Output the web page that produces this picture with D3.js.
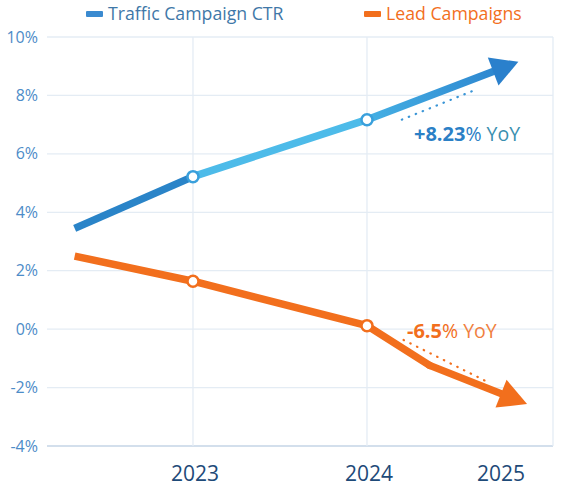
<!DOCTYPE html>
<html>
<head>
<meta charset="utf-8">
<script src="https://cdn.jsdelivr.net/npm/d3@7"></script>
<style>
  body { margin: 0; background: #fff; }
  svg { font-family: "Open Sans", "Noto Sans", sans-serif; }
</style>
</head>
<body>
<div id="chart"></div>
<script>
// data
const yTicks = [-4, -2, 0, 2, 4, 6, 8, 10];
const years = [2023, 2024, 2025];

const ctrX = [2022.32, 2023, 2024, 2024.87];
const ctrY = [3.45, 5.22, 7.17, 9.15];
const ctrColors = ["#2a84c8", "#4dbbe9", "url(#ctrGrad)"];

const leadX = [2022.32, 2023, 2024, 2024.36, 2024.92];
const leadY = [2.5, 1.64, 0.12, -1.24, -2.56];

const ctrNote = { bold: "+8.23", rest: "% ", tail: "YoY", x: 2024.27, y: 6.45 };
const leadNote = { bold: "-6.5", rest: "% ", tail: "YoY", x: 2024.23, y: -0.32 };
const ctrDots = [[2024.2, 7.17], [2024.61, 8.16]];
const leadDots = [[2024.21, -0.37], [2024.68, -1.77]];

const orange = "#f26f1d";

const width = 561, height = 501;
const margin = { top: 37, right: 8, bottom: 55, left: 47 };

const svg = d3.select("#chart").append("svg")
  .attr("width", width).attr("height", height);

const x = d3.scaleLinear()
  .domain([2022.161, 2025.069])
  .range([margin.left, width - margin.right]);
const y = d3.scaleLinear()
  .domain([-4, 10])
  .range([height - margin.bottom, margin.top]);

// gradient for the last blue segment
const grad = svg.append("defs").append("linearGradient")
  .attr("id", "ctrGrad").attr("gradientUnits", "userSpaceOnUse")
  .attr("x1", x(2024)).attr("y1", y(7.17))
  .attr("x2", x(2024.87)).attr("y2", y(9.15));
grad.append("stop").attr("offset", "0%").attr("stop-color", "#45b0e4");
grad.append("stop").attr("offset", "100%").attr("stop-color", "#2a80cc");

// grid
svg.append("g").selectAll("line").data(yTicks).join("line")
  .attr("x1", margin.left).attr("x2", width - margin.right)
  .attr("y1", d => y(d)).attr("y2", d => y(d))
  .attr("stroke", d => d === -4 ? "#d3dfec" : "#e4ecf4")
  .attr("stroke-width", d => d === -4 ? 2 : 1.3);

const vLines = [2023, 2024, x.domain()[1]];
svg.append("g").selectAll("line").data(vLines).join("line")
  .attr("x1", d => x(d)).attr("x2", d => x(d))
  .attr("y1", margin.top).attr("y2", y(-4))
  .attr("stroke", "#e4ecf4").attr("stroke-width", 1.3);

// y axis labels
svg.append("g").selectAll("text").data(yTicks).join("text")
  .attr("x", 38).attr("y", d => y(d)).attr("dy", "0.35em")
  .attr("text-anchor", "end")
  .attr("fill", "#4d8cc8").style("font-size", "16px")
  .text(d => d + "%");

// x axis labels
svg.append("g").selectAll("text").data(years).join("text")
  .attr("x", d => x(d)).attr("dx", (d, i) => i === years.length - 1 ? -40 : 2)
  .attr("y", 481)
  .attr("text-anchor", "middle")
  .attr("fill", "#1e4a78").style("font-size", "21px")
  .text(d => d);

// polyline whose last segment ends at the arrowhead base
function drawSeries(xs, ys, colors, headLen, headW) {
  const pts = xs.map((d, i) => [x(d), y(ys[i])]);
  const n = pts.length;
  const tip = pts[n - 1], prev = pts[n - 2];
  const dx = tip[0] - prev[0], dy = tip[1] - prev[1];
  const len = Math.hypot(dx, dy);
  const ux = dx / len, uy = dy / len;
  const base = [tip[0] - ux * headLen, tip[1] - uy * headLen];
  const linePts = pts.slice(0, n - 1).concat([base]);

  for (let i = 0; i < linePts.length - 1; i++) {
    svg.append("line")
      .attr("x1", linePts[i][0]).attr("y1", linePts[i][1])
      .attr("x2", linePts[i + 1][0]).attr("y2", linePts[i + 1][1])
      .attr("stroke", colors[Math.min(i, colors.length - 1)])
      .attr("stroke-width", 7.5)
      .attr("stroke-linecap", i === 0 ? "butt" : "round");
  }
  const c = colors.length > 1 ? "#2a80cc" : colors[0];
  svg.append("path")
    .attr("d", `M${tip[0]},${tip[1]}` +
      `L${base[0] - uy * headW},${base[1] + ux * headW}` +
      `L${base[0] + uy * headW},${base[1] - ux * headW}Z`)
    .attr("fill", c);
  return pts;
}

drawSeries(ctrX, ctrY, ctrColors, 27, 15);
drawSeries(leadX, leadY, [orange], 28, 15);

// markers at year points
function markers(xs, ys, color) {
  const pts = xs.map((d, i) => ({ x: d, y: ys[i] })).filter(d => years.includes(d.x));
  svg.append("g").selectAll("circle").data(pts).join("circle")
    .attr("cx", d => x(d.x)).attr("cy", d => y(d.y)).attr("r", 5.5)
    .attr("fill", "#fff").attr("stroke", color).attr("stroke-width", 2.5);
}
markers(ctrX, ctrY, "#3aa0dc");
markers(leadX, leadY, orange);

// dotted trend hints
function dots(p, color) {
  svg.append("line")
    .attr("x1", x(p[0][0])).attr("y1", y(p[0][1]))
    .attr("x2", x(p[1][0])).attr("y2", y(p[1][1]))
    .attr("stroke", color).attr("stroke-width", 2.2)
    .attr("stroke-dasharray", "0.5,7").attr("stroke-linecap", "round");
}
dots(ctrDots, "#3a95d6");
dots(leadDots, orange);

// annotations
function note(n, c1, c2) {
  const t = svg.append("text")
    .attr("x", x(n.x)).attr("y", y(n.y));
  t.append("tspan").text(n.bold).attr("fill", c1)
    .style("font-weight", "bold").style("font-size", "20px");
  t.append("tspan").text(n.rest).attr("fill", c1).style("font-size", "19.5px");
  t.append("tspan").text(n.tail).attr("fill", c2).style("font-size", "19.5px");
}
note(ctrNote, "#2b80c6", "#3a8fb0");
note(leadNote, orange, "#f08040");

// legend
const legend = [
  { label: "Traffic Campaign CTR", color: "#3a8ad0", text: "#3f78a8", x: 86 },
  { label: "Lead Campaigns", color: orange, text: orange, x: 364 }
];
const lg = svg.append("g").selectAll("g").data(legend).join("g")
  .attr("transform", d => `translate(${d.x},0)`);
lg.append("rect").attr("x", 0).attr("y", 11).attr("width", 17).attr("height", 6)
  .attr("rx", 1).attr("fill", d => d.color);
lg.append("text").attr("x", 22).attr("y", 20)
  .attr("fill", d => d.text).style("font-size", "17.7px")
  .text(d => d.label);
</script>
</body>
</html>
